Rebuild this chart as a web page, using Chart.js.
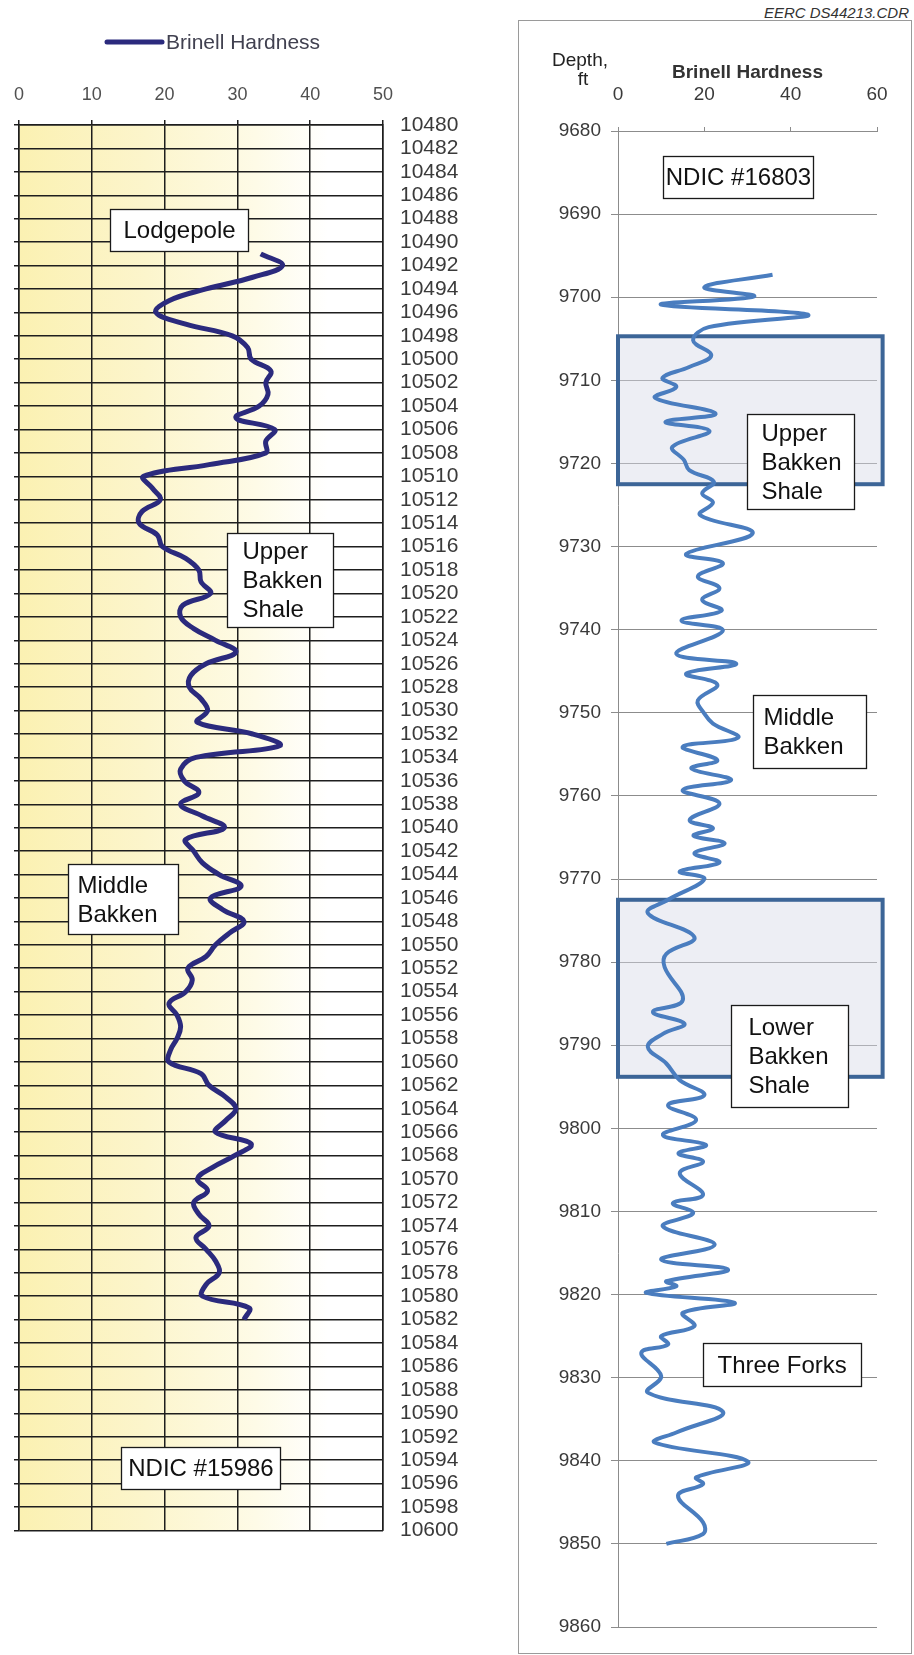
<!DOCTYPE html>
<html>
<head>
<meta charset="utf-8">
<script src="https://cdn.jsdelivr.net/npm/chart.js@4.4.1/dist/chart.umd.min.js"></script>
<style>
  html, body { margin: 0; padding: 0; background: #fff; }
  body { width: 914px; height: 1655px; position: relative; overflow: hidden; font-family: "Liberation Sans", Arial, sans-serif; }
  #wellA { position: absolute; left: 0; top: 0; }
  #frame { position: absolute; left: 518px; top: 20px; width: 394px; height: 1634px; border: 1.5px solid #9a9a9a; box-sizing: border-box; }
  #wellB { position: absolute; left: 519px; top: 21px; }
  #drawing { position: absolute; right: 5px; top: 4px; line-height: 15px; font: italic 15px "Liberation Sans", Arial, sans-serif; color: #333; }
</style>
</head>
<body>
<div id="drawing">EERC DS44213.CDR</div>
<canvas id="wellA" width="470" height="1560"></canvas>
<div id="frame"></div>
<canvas id="wellB" width="391" height="1631"></canvas>
<script>
// ---- NDIC #15986 : Brinell hardness vs depth (ft) ----
const wellADepths = [
  10491, 10492, 10493, 10494, 10495, 10496, 10497, 10498, 10499, 10500,
  10501, 10502, 10503, 10504, 10505, 10506, 10507, 10508, 10509, 10510,
  10511, 10512, 10513, 10514, 10515, 10516, 10517, 10518, 10519, 10520,
  10521, 10522, 10523, 10524, 10525, 10526, 10527, 10528, 10529, 10530,
  10531, 10532, 10533, 10534, 10535, 10536, 10537, 10538, 10539, 10540,
  10541, 10542, 10543, 10544, 10545, 10546, 10547, 10548, 10549, 10550,
  10551, 10552, 10553, 10554, 10555, 10556, 10557, 10558, 10559, 10560,
  10561, 10562, 10563, 10564, 10565, 10566, 10567, 10568, 10569, 10570,
  10571, 10572, 10573, 10574, 10575, 10576, 10577, 10578, 10579, 10580,
  10581, 10582
];
const wellAHardness = [
  33.2, 36.2, 32.1, 25.7, 20.6, 18.8, 22.9, 29.3, 31.4, 31.9,
  34.6, 33.9, 34.2, 33.0, 29.8, 35.1, 33.9, 33.9, 26.1, 17.1,
  18.3, 19.4, 16.9, 16.5, 19.0, 19.7, 22.9, 24.7, 25.0, 26.3,
  22.5, 22.2, 24.0, 27.0, 29.8, 25.7, 23.6, 23.4, 25.0, 25.9,
  24.5, 32.1, 35.8, 24.3, 22.2, 22.7, 24.7, 22.2, 25.2, 28.2,
  22.9, 24.0, 25.2, 27.5, 30.5, 26.3, 28.0, 30.9, 28.9, 27.0,
  25.7, 23.2, 23.8, 22.9, 20.6, 21.7, 22.2, 21.7, 20.8, 20.6,
  25.0, 26.1, 28.4, 29.8, 28.4, 27.0, 31.9, 29.6, 26.6, 24.5,
  25.9, 24.0, 24.7, 26.1, 24.3, 25.7, 27.0, 27.5, 25.7, 25.2,
  31.6, 30.9
];
const wellAHardnessTicks = { min: 0, max: 50, step: 10 };
const wellADepthTicks = { min: 10480, max: 10600, step: 2 };

// ---- NDIC #16803 : Brinell hardness vs depth (ft) ----
const wellBDepths = [
  9697.3, 9698.8, 9699.9, 9700.9, 9702.1, 9703.6, 9705.2, 9707.0, 9708.4, 9709.7,
  9710.8, 9712.1, 9714.0, 9715.0, 9716.1, 9718.0, 9719.6, 9720.8, 9722.2, 9723.6,
  9724.7, 9726.2, 9728.4, 9730.9, 9732.0, 9733.6, 9735.0, 9736.4, 9737.7, 9738.9,
  9740.1, 9742.9, 9744.1, 9745.3, 9746.6, 9748.5, 9750.1, 9751.3, 9753.0, 9754.1,
  9755.7, 9756.7, 9758.1, 9759.3, 9760.9, 9762.9, 9763.9, 9764.8, 9765.7, 9766.9,
  9768.0, 9769.1, 9770.0, 9772.5, 9774.1, 9777.0, 9779.0, 9780.6, 9784.6, 9786.0,
  9787.4, 9788.6, 9790.2, 9792.2, 9794.2, 9796.0, 9797.2, 9799.0, 9800.8, 9802.0,
  9803.0, 9804.0, 9805.4, 9808.0, 9809.0, 9810.2, 9811.8, 9814.0, 9815.8, 9817.0,
  9818.4, 9819.0, 9819.8, 9821.0, 9822.2, 9823.8, 9825.0, 9826.0, 9827.0, 9829.8,
  9831.8, 9834.1, 9836.6, 9837.8, 9840.1, 9842.0, 9842.8, 9844.2, 9847.4, 9848.8,
  9850.0
];
const wellBHardness = [
  35.8, 20.0, 31.5, 10.0, 44.0, 21.0, 17.4, 21.6, 16.5, 10.3,
  13.5, 8.6, 22.6, 11.0, 21.2, 12.6, 15.3, 16.5, 22.2, 19.5,
  22.0, 19.0, 31.2, 15.8, 24.3, 18.5, 23.5, 19.5, 24.0, 14.7,
  24.3, 13.5, 27.4, 15.8, 23.0, 18.5, 20.0, 22.0, 27.8, 15.0,
  23.0, 17.0, 26.2, 15.0, 23.5, 16.6, 22.0, 17.5, 24.7, 17.7,
  23.5, 14.3, 20.0, 11.6, 6.9, 17.7, 11.2, 10.8, 15.0, 8.1,
  15.4, 10.5, 6.9, 11.2, 14.3, 20.0, 11.6, 18.1, 10.4, 20.4,
  14.0, 19.7, 14.3, 19.7, 12.7, 17.4, 10.4, 22.4, 10.0, 25.5,
  11.2, 13.5, 6.6, 27.0, 15.0, 17.7, 10.0, 11.6, 5.4, 10.0,
  6.9, 24.3, 13.5, 8.5, 30.1, 18.1, 19.7, 13.9, 19.7, 19.7,
  11.2
];
const wellBHardnessTicks = { min: 0, max: 60, step: 20 };
const wellBDepthTicks = { min: 9680, max: 9860, step: 10 };

// formation intervals (depth ft) and text boxes, in data units
const wellAFormationLabels = [
  { text: ['Lodgepole'], x: [12.5, 31.5], y: [10487.2, 10490.8], align: 'center' },
  { text: ['Upper', 'Bakken', 'Shale'], x: [28.6, 43.2], y: [10514.8, 10522.9], align: 'left', pad: 15 },
  { text: ['Middle', 'Bakken'], x: [6.7, 21.9], y: [10543.1, 10549.1], align: 'left', pad: 9 },
  { text: ['NDIC #15986'], x: [14.0, 35.8], y: [10592.9, 10596.5], align: 'center' }
];
const wellBShaleIntervals = [
  { x: [0, 61.3], y: [9704.7, 9722.5] },
  { x: [0, 61.3], y: [9772.5, 9793.8] }
];
const wellBFormationLabels = [
  { text: ['NDIC #16803'], x: [10.4, 45.1], y: [9683.0, 9688.1], align: 'center' },
  { text: ['Upper', 'Bakken', 'Shale'], x: [29.9, 54.6], y: [9714.1, 9725.5], align: 'left', pad: 14 },
  { text: ['Middle', 'Bakken'], x: [31.3, 57.4], y: [9747.9, 9756.7], align: 'left', pad: 10 },
  { text: ['Lower', 'Bakken', 'Shale'], x: [26.2, 53.2], y: [9785.2, 9797.4], align: 'left', pad: 17 },
  { text: ['Three Forks'], x: [19.7, 56.3], y: [9825.8, 9831.0], align: 'left', pad: 14 }
];

const SANS = '"Liberation Sans", Arial, sans-serif';

function textBoxes(id, items, xId, yId) {
  return {
    id,
    afterDatasetsDraw(chart) {
      const ctx = chart.ctx, xs = chart.scales[xId], ys = chart.scales[yId];
      ctx.save();
      items.forEach(it => {
        const x0 = Math.round(xs.getPixelForValue(it.x[0])) + 0.5;
        const x1 = Math.round(xs.getPixelForValue(it.x[1])) + 0.5;
        const y0 = Math.round(ys.getPixelForValue(it.y[0])) + 0.5;
        const y1 = Math.round(ys.getPixelForValue(it.y[1])) + 0.5;
        ctx.fillStyle = '#fff';
        ctx.fillRect(x0, y0, x1 - x0, y1 - y0);
        ctx.strokeStyle = '#1a1a1a';
        ctx.lineWidth = 1.3;
        ctx.strokeRect(x0, y0, x1 - x0, y1 - y0);
        ctx.fillStyle = '#111';
        ctx.font = '24px ' + SANS;
        ctx.textBaseline = 'middle';
        const n = it.text.length, lh = 29, cy = (y0 + y1) / 2 + 1;
        it.text.forEach((t, i) => {
          const ty = cy + (i - (n - 1) / 2) * lh;
          if (it.align === 'center') {
            ctx.textAlign = 'center';
            ctx.fillText(t, (x0 + x1) / 2, ty);
          } else {
            ctx.textAlign = 'left';
            ctx.fillText(t, x0 + it.pad, ty);
          }
        });
      });
      ctx.restore();
    }
  };
}

// pale yellow wash behind the first log, fading out toward high hardness
const yellowWash = {
  id: 'yellowWash',
  beforeDraw(chart) {
    const { ctx, chartArea: a } = chart;
    const g = ctx.createLinearGradient(a.left, 0, a.right, 0);
    g.addColorStop(0, '#fbf1b2');
    g.addColorStop(0.35, '#fcf5cc');
    g.addColorStop(0.65, '#fefbe7');
    g.addColorStop(0.85, '#ffffff');
    g.addColorStop(1, '#ffffff');
    ctx.save();
    ctx.fillStyle = g;
    ctx.fillRect(a.left, a.top, a.right - a.left, a.bottom - a.top);
    ctx.restore();
  }
};

// series key drawn above the first log
const lineKey = {
  id: 'lineKey',
  afterDraw(chart) {
    const ds = chart.data.datasets[0];
    const ctx = chart.ctx;
    ctx.save();
    ctx.strokeStyle = ds.borderColor;
    ctx.lineWidth = 5;
    ctx.lineCap = 'round';
    ctx.beginPath();
    ctx.moveTo(107, 42);
    ctx.lineTo(162, 42);
    ctx.stroke();
    ctx.fillStyle = '#414150';
    ctx.font = '21px ' + SANS;
    ctx.textAlign = 'left';
    ctx.textBaseline = 'middle';
    ctx.fillText(ds.label, 166, 43);
    ctx.restore();
  }
};

const gridBlack = '#1e1e1e';
const plain = v => String(v);

new Chart(document.getElementById('wellA'), {
  type: 'scatter',
  data: {
    datasets: [{
      label: 'Brinell Hardness',
      data: wellADepths.map((d, i) => ({ x: wellAHardness[i], y: d })),
      showLine: true,
      borderColor: '#2b2a7d',
      borderWidth: 5,
      pointRadius: 0,
      tension: 0.4,
      yAxisID: 'depthL'
    }]
  },
  options: {
    responsive: false,
    animation: false,
    layout: { padding: { left: 0, top: 0, right: 0, bottom: 26 } },
    plugins: { legend: { display: false }, tooltip: { enabled: false } },
    scales: {
      x: {
        type: 'linear', position: 'top',
        min: wellAHardnessTicks.min, max: wellAHardnessTicks.max,
        ticks: { stepSize: wellAHardnessTicks.step, padding: 14, color: '#505050', font: { family: SANS, size: 18 } },
        grid: { color: gridBlack, lineWidth: 1.5, tickLength: 5 },
        border: { color: gridBlack, width: 1.5 },
        afterFit(s) { s.height = 125; }
      },
      depthL: {
        type: 'linear', position: 'left', reverse: true,
        min: wellADepthTicks.min, max: wellADepthTicks.max,
        ticks: { stepSize: wellADepthTicks.step, display: false },
        grid: { color: gridBlack, lineWidth: 1.5, tickLength: 5 },
        border: { color: gridBlack, width: 1.5 },
        afterFit(s) { s.width = 18; }
      },
      depthR: {
        type: 'linear', position: 'right', reverse: true,
        min: wellADepthTicks.min, max: wellADepthTicks.max,
        ticks: { stepSize: wellADepthTicks.step, autoSkip: false, padding: 17, color: '#3a3a3a', font: { family: SANS, size: 21 }, callback: plain },
        grid: { drawOnChartArea: false, drawTicks: false },
        border: { color: gridBlack, width: 1.5 },
        afterFit(s) { s.width = 87; }
      }
    }
  },
  plugins: [yellowWash, lineKey, textBoxes('wellALabels', wellAFormationLabels, 'x', 'depthL')]
});

const gridGray = '#8c8c8c';

const shaleBands = {
  id: 'shaleBands',
  beforeDatasetsDraw(chart) {
    const ctx = chart.ctx, xs = chart.scales.x, ys = chart.scales.y;
    ctx.save();
    wellBShaleIntervals.forEach(r => {
      const x0 = xs.getPixelForValue(r.x[0]), x1 = xs.getPixelForValue(r.x[1]);
      const y0 = ys.getPixelForValue(r.y[0]), y1 = ys.getPixelForValue(r.y[1]);
      ctx.fillStyle = 'rgba(214, 218, 230, 0.45)';
      ctx.fillRect(x0, y0, x1 - x0, y1 - y0);
      ctx.strokeStyle = '#3c6597';
      ctx.lineWidth = 4;
      ctx.strokeRect(x0, y0, x1 - x0, y1 - y0);
    });
    ctx.restore();
  }
};

const depthCaption = {
  id: 'depthCaption',
  afterDraw(chart) {
    const ctx = chart.ctx;
    ctx.save();
    ctx.fillStyle = '#222';
    ctx.font = '19px ' + SANS;
    ctx.textAlign = 'center';
    ctx.textBaseline = 'middle';
    ctx.fillText('Depth,', 61, 40);
    ctx.fillText('ft', 64, 59);
    ctx.restore();
  }
};

new Chart(document.getElementById('wellB'), {
  type: 'scatter',
  data: {
    datasets: [{
      label: 'Brinell Hardness',
      data: wellBDepths.map((d, i) => ({ x: wellBHardness[i], y: d })),
      showLine: true,
      borderColor: '#4a7dbf',
      borderWidth: 4,
      pointRadius: 0,
      tension: 0.4
    }]
  },
  options: {
    responsive: false,
    animation: false,
    layout: { padding: { left: 0, top: 0, right: 33, bottom: 25 } },
    plugins: { legend: { display: false }, tooltip: { enabled: false } },
    scales: {
      x: {
        type: 'linear', position: 'top',
        min: wellBHardnessTicks.min, max: wellBHardnessTicks.max,
        ticks: { stepSize: wellBHardnessTicks.step, padding: 21, color: '#3a3a3a', font: { family: SANS, size: 19 } },
        grid: { drawOnChartArea: false, color: gridGray, tickLength: 4 },
        border: { color: gridGray, width: 1 },
        title: { display: true, text: 'Brinell Hardness', color: '#333', font: { family: SANS, size: 19, weight: 'bold' }, padding: { top: 40, bottom: 0 } },
        afterFit(s) { s.height = 110; }
      },
      y: {
        type: 'linear', position: 'left', reverse: true,
        min: wellBDepthTicks.min, max: wellBDepthTicks.max,
        ticks: { stepSize: wellBDepthTicks.step, padding: 10, color: '#3a3a3a', font: { family: SANS, size: 19 }, callback: plain },
        grid: { color: gridGray, lineWidth: 1, tickLength: 7 },
        border: { color: gridGray, width: 1 },
        afterFit(s) { s.width = 99; }
      }
    }
  },
  plugins: [shaleBands, depthCaption, textBoxes('wellBLabels', wellBFormationLabels, 'x', 'y')]
});
</script>
</body>
</html>
